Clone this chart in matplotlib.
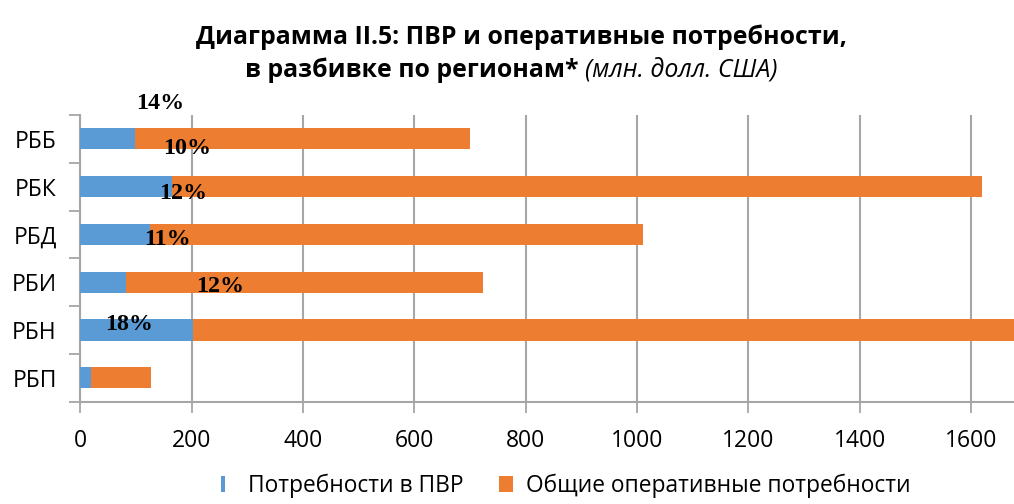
import matplotlib.pyplot as plt
from matplotlib.ticker import FixedLocator

# regions, top to bottom
regions = ["РББ", "РБК", "РБД", "РБИ", "РБН", "РБП"]
pvr_needs = [98, 164, 125, 82, 203, 20]          # Потребности в ПВР
total_needs = [700, 1620, 1011, 723, 1720, 127]  # Общие оперативные потребности (end of bar)
pct_labels = ["10%", "12%", "11%", "12%", "18%"]
pct_rows = [0, 1, 2, 3, 4]
extra_label = "14%"

# where the percent labels sit (data units, as in the original)
pct_x = [191, 184, 156, 252, 87]
pct_dy = [0.20, 0.14, 0.10, 0.08, -0.12]

blue = "#5b9bd5"
orange = "#ed7d31"
grid_c = "#a6a6a6"
sans = ["Open Sans", "DejaVu Sans"]

plt.rcParams["font.family"] = sans

fig = plt.figure(figsize=(10.14, 5.04), dpi=100)
ax = fig.add_axes([0.0792, 0.203, 0.9208, 0.569])

ypos = list(range(len(regions)))
ops = [t - p for t, p in zip(total_needs, pvr_needs)]
ax.barh(ypos, pvr_needs, height=0.44, color=blue, zorder=3,
        label="Потребности в ПВР")
ax.barh(ypos, ops, left=pvr_needs, height=0.44, color=orange, zorder=3,
        label="Общие оперативные потребности")

ax.set_ylim(len(regions) - 0.5, -0.5)
ax.set_xlim(0, 1677)
ax.set_xticks(range(0, 1601, 200))
ax.set_yticks(ypos)
ax.set_yticklabels(regions)
ax.yaxis.set_minor_locator(FixedLocator([i - 0.5 for i in range(len(regions) + 1)]))

ax.tick_params(axis="y", which="major", length=0, pad=17, labelsize=16.5)
ax.tick_params(axis="y", which="minor", length=8, width=1.3, color=grid_c)
ax.tick_params(axis="x", length=8, width=1.3, color=grid_c, pad=12, labelsize=16.5)

ax.grid(axis="x", color=grid_c, linewidth=1.5, zorder=0)
for s in ["top", "right"]:
    ax.spines[s].set_visible(False)
for s in ["left", "bottom"]:
    ax.spines[s].set_color(grid_c)
    ax.spines[s].set_linewidth(1.5)

serif = dict(family="Liberation Serif", fontweight="bold", fontsize=17.3,
             ha="center", va="center", zorder=5)
for lab, row, x, dy in zip(pct_labels, pct_rows, pct_x, pct_dy):
    ax.text(x, row + dy, lab, **serif)
ax.text(144, -0.745, extra_label, clip_on=False, **serif)

# title
fig.text(0.514, 0.926, "Диаграмма II.5: ПВР и оперативные потребности,",
         ha="center", va="center", fontsize=17.9, fontweight="bold")
fig.text(0.571, 0.861, "в разбивке по регионам*", ha="right", va="center",
         fontsize=17.9, fontweight="bold")
fig.text(0.577, 0.861, "(млн. долл. США)", ha="left", va="center",
         fontsize=17.9, style="italic")

leg = fig.legend(loc="lower center", bbox_to_anchor=(0.558, -0.028), ncol=2,
                 frameon=False, fontsize=16.4, handlelength=0.6, handleheight=0.7,
                 columnspacing=1.6, handletextpad=0.55)
leg.legend_handles[0].set_width(3)

fig.savefig("out.png", dpi=100)
